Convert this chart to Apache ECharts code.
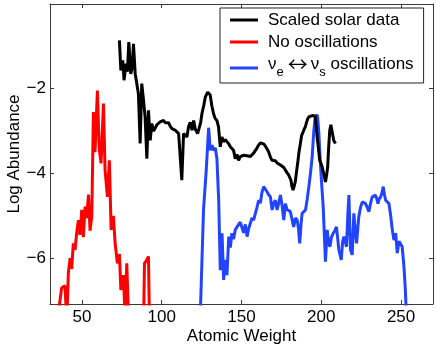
<!DOCTYPE html>
<html>
<head>
<meta charset="utf-8">
<script src="https://cdn.jsdelivr.net/npm/echarts@6/dist/echarts.min.js"></script>
<style>
  html, body { margin: 0; padding: 0; background: #fff; }
  #chartAbundance { width: 436px; height: 346px; }
</style>
</head>
<body>
<div id="chartAbundance"></div>
<script>
// [atomic weight, log abundance]
var solarData = [
  [73.5,-0.86],[74.4,-1.57],[75.6,-1.33],[76.4,-1.80],[77.7,-1.41],[78.5,-1.6],[79.4,-0.90],[80.6,-1.65],
  [81.5,-1.5],[82.3,-0.94],[83.4,-1.65],[84.4,-1.88],[85.4,-2.12],[86.5,-3.29],[87.5,-1.88],[88.6,-2.27],
  [89.6,-2.67],[90.7,-3.65],[91.7,-2.51],[92.8,-3.22],[93.8,-2.82],[94.9,-3.0],[95.9,-2.98],[97,-2.85],
  [98,-2.86],[99,-2.78],[100,-2.75],[101.1,-2.75],[102.2,-2.8],[103.2,-2.77],[104.3,-2.8],[105.3,-2.88],
  [106.4,-2.94],[107.4,-2.92],[108.5,-2.98],[109.6,-3.0],[110.6,-3.06],[111.6,-3.02],[112.6,-4.16],[113.7,-3.06],
  [114.7,-3.1],[115.8,-3.14],[116.8,-2.9],[117.9,-2.79],[119,-2.98],[120,-2.75],[121,-2.95],[122.5,-3.06],
  [123.5,-3.02],[124.4,-2.8],[125.2,-2.59],[126.3,-2.4],[127.3,-2.2],[128.8,-2.08],[130.4,-2.15],[131.4,-2.4],
  [132.5,-2.59],[133.5,-2.7],[134.6,-2.75],[135.6,-2.9],[136.7,-3.37],[137.7,-3.14],[138.8,-3.25],[139.9,-3.2],
  [140.9,-3.22],[142,-3.3],[143,-3.37],[144,-3.35],[145,-3.45],[146.1,-3.65],[147.2,-3.55],[148.2,-3.69],
  [149.2,-3.6],[150.3,-3.61],[151.4,-3.57],[152.4,-3.53],[153.5,-3.58],[154.5,-3.55],[155.6,-3.6],[156.6,-3.58],
  [157.6,-3.52],[158.6,-3.49],[159.7,-3.4],[160.7,-3.33],[161.8,-3.28],[162.8,-3.26],[163.9,-3.3],[164.9,-3.35],
  [166,-3.42],[167,-3.49],[168,-3.6],[169.1,-3.69],[170.2,-3.72],[171.2,-3.7],[172.3,-3.75],[173.3,-3.73],
  [174.4,-3.8],[175.4,-3.84],[176.5,-3.86],[177.5,-3.92],[178.5,-3.98],[179.6,-4.04],[180.3,-4.1],[181,-4.16],
  [181.6,-4.3],[182.3,-4.39],[183,-4.3],[183.7,-4.2],[184.5,-3.95],[185.2,-3.76],[186,-3.5],[186.9,-3.29],
  [187.7,-3.1],[188.6,-3.02],[189.3,-2.95],[190,-2.9],[190.7,-2.8],[191.5,-2.71],[192.3,-2.66],[193.2,-2.63],
  [194.9,-2.63],[196.3,-2.66],[197.4,-3.14],[198.2,-3.4],[199,-3.69],[199.7,-3.75],[200.5,-3.84],[201.5,-4.0],
  [202.6,-4.2],[203.3,-4.05],[204,-3.84],[204.6,-3.4],[205.3,-2.98],[206,-2.85],[206.8,-2.82],[207.8,-3.22],
  [208.9,-3.29]
];

var noOscData = [
  [35.2,-7.3],[37.3,-6.7],[39.4,-6.65],[40.5,-7.5],[41.5,-6.35],[42.6,-6.0],[43.6,-6.25],[44.6,-5.65],
  [45.7,-5.8],[46.7,-5.41],[47.8,-5.1],[48.8,-5.45],[49.9,-4.86],[50.9,-5.5],[52,-4.78],[53,-5.05],
  [54.1,-4.5],[55.1,-5.35],[56.2,-5.0],[57.2,-2.55],[58.2,-3.5],[59.7,-2.04],[60.8,-3.4],[62,-3.76],
  [63.5,-2.35],[64.5,-3.92],[66,-4.55],[67.2,-3.69],[68.3,-5.33],[69.7,-5.0],[70.8,-5.64],[72.2,-6.12],
  [73.5,-5.9],[74.4,-6.75],[76,-6.4],[77.1,-7.4],[78.1,-6.12],[79.2,-7.4],[84,-7.6],[88.7,-7.4],
  [89.2,-6.12],[90.5,-6.05],[91.7,-5.96],[92.3,-7.4]
];

var sterileData = [
  [124.2,-7.3],[126.2,-4.86],[127.9,-3.92],[129.4,-2.92],[130.4,-3.45],[131.5,-3.33],[132.5,-3.45],[133.6,-3.4],
  [134.6,-3.65],[135.7,-4.63],[136.7,-6.28],[137.8,-5.41],[138.8,-6.51],[139.8,-6.04],[140.9,-6.4],[142,-5.49],
  [143,-5.75],[144,-5.41],[145,-5.55],[146.1,-5.33],[147.2,-5.26],[148.2,-5.3],[149.2,-5.15],[150.3,-5.18],
  [151.4,-5.4],[152.4,-5.2],[153.5,-5.49],[154.5,-5.3],[155.5,-5.18],[156.6,-5.05],[157.6,-5.1],[158.7,-4.94],
  [159.7,-4.8],[160.8,-4.63],[161.8,-4.7],[162.8,-4.45],[163.9,-4.31],[165,-4.35],[166,-4.43],[167,-4.5],
  [168.1,-4.55],[169.2,-4.86],[170.2,-4.7],[171.2,-4.63],[172.3,-4.86],[173.3,-4.7],[174.4,-4.51],[175.4,-4.75],
  [176.5,-5.1],[177.5,-4.71],[178.5,-4.85],[179.6,-4.86],[180.6,-4.9],[181.7,-4.94],[182.7,-5.26],[183.8,-5.05],
  [184.9,-5.1],[185.7,-5.3],[186.5,-5.65],[187.3,-5.2],[188,-4.94],[189,-4.9],[190.1,-4.86],[191.2,-4.6],
  [192.2,-4.31],[193.2,-4.0],[194.3,-3.6],[195.3,-3.0],[196.3,-2.63],[197.6,-2.63],[198.4,-3.0],[199.5,-3.8],
  [200.5,-4.4],[201.2,-4.79],[202.6,-6.08],[203.7,-5.33],[204.5,-5.6],[205.4,-5.73],[206.4,-5.5],[207.5,-5.41],
  [208.5,-5.35],[209.5,-5.26],[210.2,-5.5],[211,-5.8],[212.5,-6.04],[213.4,-5.6],[214.2,-5.49],[215,-5.6],
  [215.8,-5.73],[216.6,-5.0],[217.3,-4.51],[218.3,-5.8],[219.4,-5.92],[220.4,-4.94],[221.2,-5.3],[222.1,-5.65],
  [223.5,-5.02],[224.6,-4.8],[225.7,-4.67],[226.7,-4.65],[227.7,-4.71],[228.8,-4.8],[229.8,-4.9],[230.9,-4.7],
  [231.9,-4.55],[233,-4.52],[234,-4.51],[234.8,-4.6],[235.5,-4.71],[236.3,-4.6],[237.2,-4.55],[238.1,-4.45],
  [238.8,-4.31],[239.6,-4.5],[240.3,-4.63],[241.4,-4.65],[242.4,-4.71],[243.5,-5.0],[244.5,-5.33],[245.5,-5.57],
  [246.6,-5.41],[247.6,-5.88],[248.7,-5.6],[249.7,-5.57],[250.7,-5.73],[251.8,-6.2],[252.6,-6.7],[253.3,-7.3]
];

var seriesNames = ['Scaled solar data', 'No oscillations', 've<->vs oscillations'];
var xTicks = [50, 100, 150, 200, 250];
var yTicks = [-6, -4, -2];

var FONT = 'Liberation Sans';
var frameColor = '#3a3a3a';

function tickAxis(pos, isX, show) {
  // MATLAB style box: inward ticks on all four sides
  return {
    type: 'value',
    position: pos,
    min: isX ? 30 : -7.08,
    max: isX ? 270 : 0,
    axisLine: { show: true, onZero: false, lineStyle: { color: frameColor, width: 1 } },
    axisTick: { show: true, inside: true, length: 4, customValues: isX ? xTicks : yTicks,
      lineStyle: { color: frameColor } },
    axisLabel: { show: show, customValues: isX ? xTicks : yTicks },
    splitLine: { show: false }
  };
}

var xBottom = tickAxis('bottom', true, true);
xBottom.name = 'Atomic Weight';
xBottom.nameLocation = 'middle';
xBottom.nameGap = 24;
xBottom.nameMoveOverlap = false;
xBottom.nameTextStyle = { fontFamily: FONT, fontSize: 17, color: '#000' };
xBottom.axisLabel.margin = 5;
xBottom.axisLabel.fontFamily = FONT;
xBottom.axisLabel.fontSize = 17;
xBottom.axisLabel.color = '#000';

var yLeft = tickAxis('left', false, true);
yLeft.name = 'Log Abundance';
yLeft.nameLocation = 'middle';
yLeft.nameGap = 27;
yLeft.nameMoveOverlap = false;
yLeft.nameTextStyle = { fontFamily: FONT, fontSize: 17, color: '#000' };
yLeft.axisLabel.margin = 4;
yLeft.axisLabel.fontFamily = FONT;
yLeft.axisLabel.fontSize = 17;
yLeft.axisLabel.color = '#000';
yLeft.axisLabel.formatter = function (v) {
  return v < 0 ? '\u2212' + Math.abs(v) : String(v);
};

var chart = echarts.init(document.getElementById('chartAbundance'));
chart.setOption({
  animation: false,
  backgroundColor: '#fff',
  grid: { left: 50, right: 3, top: 4, bottom: 42, containLabel: false, outerBoundsMode: 'none' },
  xAxis: [xBottom, tickAxis('top', true, false)],
  yAxis: [yLeft, tickAxis('right', false, false)],
  legend: {
    orient: 'vertical',
    left: 220,
    top: 8,
    backgroundColor: '#fff',
    borderColor: '#222',
    borderWidth: 1,
    borderRadius: 0,
    padding: [2, 10, 1, 10],
    itemGap: 2,
    itemWidth: 28,
    itemHeight: 3,
    icon: 'rect',
    data: seriesNames,
    textStyle: {
      fontFamily: FONT,
      fontSize: 17,
      color: '#000',
      lineHeight: 20,
      padding: [0, 0, 0, 5],
      rich: {
        n: { fontFamily: FONT, fontSize: 17, color: '#000', lineHeight: 20, padding: [0, 0, 8, 0] },
        arr: { fontFamily: 'Noto Sans CJK JP', fontSize: 20, color: '#000', lineHeight: 20, padding: [0, 3, 8, 4] },
        sub: { fontFamily: FONT, fontSize: 13, color: '#000', lineHeight: 20, padding: [8, 0, 0, 0] }
      }
    },
    formatter: function (name) {
      if (name === seriesNames[2]) {
        return '{n|\u03bd}{sub|e}{arr|\u2194}{n|\u03bd}{sub|s}{n| oscillations}';
      }
      return name;
    }
  },
  series: [
    {
      name: seriesNames[0], type: 'line', data: solarData,
      showSymbol: false, symbol: 'none', clip: true,
      color: '#000', lineStyle: { color: '#000', width: 3 }, z: 3
    },
    {
      name: seriesNames[1], type: 'line', data: noOscData,
      showSymbol: false, symbol: 'none', clip: true,
      color: '#ff0000', lineStyle: { color: '#ff0000', width: 3 }, z: 2
    },
    {
      name: seriesNames[2], type: 'line', data: sterileData,
      showSymbol: false, symbol: 'none', clip: true,
      color: '#2244ff', lineStyle: { color: '#2244ff', width: 3 }, z: 2
    }
  ]
});
</script>
</body>
</html>
